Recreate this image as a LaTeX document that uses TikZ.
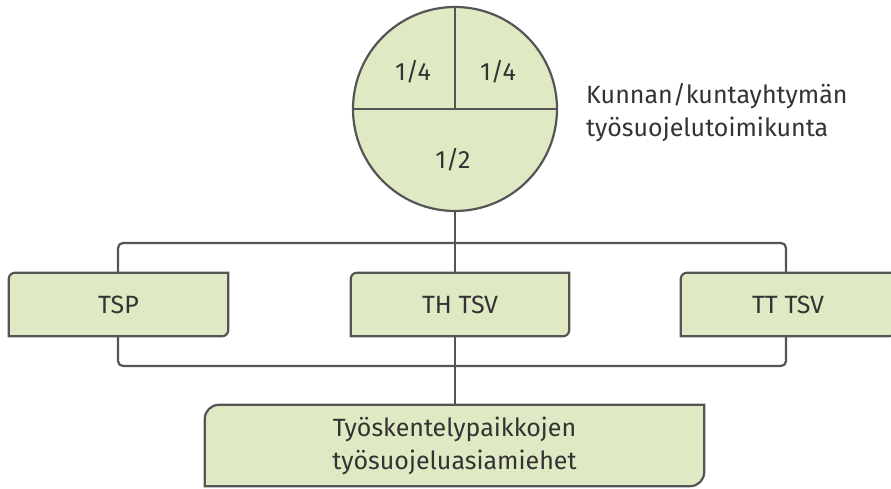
\documentclass[tikz,border=0pt]{standalone}
\usepackage{fontspec}
\setmainfont{Fira Sans}
\definecolor{boxgreen}{HTML}{DFE9C3}
\definecolor{linegray}{HTML}{555555}
\definecolor{textgray}{HTML}{333333}
\newcommand{\leafborder}[2]{%
  \draw[line, fill=boxgreen] (#1.south west) -- ([yshift=-#2]#1.north west)
    arc[start angle=180, end angle=90, radius=#2] -- (#1.north east)
    -- ([yshift=#2]#1.south east) arc[start angle=0, end angle=-90, radius=#2] -- cycle;}

\begin{document}
\begin{tikzpicture}[x=1pt, y=1pt,
    line/.style={draw=linegray, line width=2.2pt},
    lbl/.style={text=textgray, font=\fontsize{25}{33}\selectfont, inner sep=0pt},
    box/.style={lbl, minimum height=63pt, minimum width=218pt}]
    \clip (0,0) rectangle (891,489);

    % Nodes
    \node[circle, line, fill=boxgreen, minimum size=204pt, inner sep=0pt] (council) at (455,380) {};
    \node[lbl] (quarterl) at (413,417) {1/4};
    \node[lbl] (quarterr) at (498,417) {1/4};
    \node[lbl] (half) at (453,329) {1/2};
    \node[lbl, anchor=west, align=left] (councilname) at (586,376)
    {Kunnan/kuntayhtymän\\työsuojelutoimikunta};

    \coordinate (loopsw) at (118,123);
    \coordinate (loopne) at (786,246);
    \draw[line, rounded corners=5pt] (loopsw) rectangle (loopne);

    \node[box, minimum width=219pt] (tsp) at (118.5,184.5) {};
    \node[box] (thtsv) at (460,184.5) {};
    \node[box, minimum width=214pt] (tttsv) at (788,184.5) {};
    \node[box, minimum width=499pt, minimum height=81pt] (workers) at (454.5,43.5) {};

    % Box borders
    \leafborder{tsp}{6pt}
    \leafborder{thtsv}{6pt}
    \leafborder{tttsv}{6pt}
    \leafborder{workers}{14pt}

    \node[lbl] at (tsp) {TSP};
    \node[lbl] at (thtsv) {TH TSV};
    \node[lbl] at (tttsv) {TT TSV};
    \node[lbl, align=center] at (workers) {Työskentelypaikkojen\\työsuojeluasiamiehet};

    % Lines
    \draw[line] (council.west) -- (council.east);
    \draw[line] (council.north) -- (council.center);
    \draw[line] (council.south) -- (council.south |- thtsv.north);
    \draw[line] (council.south |- thtsv.south) -- (council.south |- workers.north);

\end{tikzpicture}
\end{document}
